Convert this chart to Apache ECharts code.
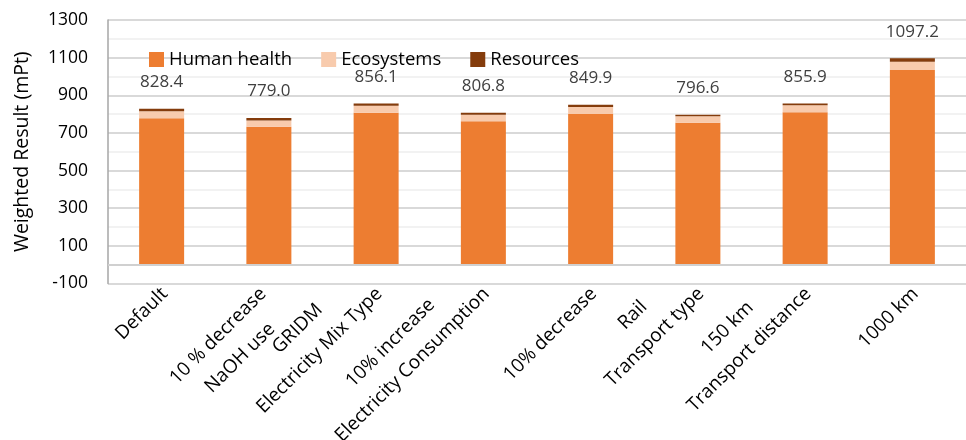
<!DOCTYPE html>
<html>
<head>
<meta charset="utf-8">
<script src="https://cdn.jsdelivr.net/npm/echarts@6/dist/echarts.min.js"></script>
<style>
  html, body { margin: 0; padding: 0; background: #fff; }
  #chart { width: 966px; height: 440px; }
</style>
</head>
<body>
<div id="chart"></div>
<script>
// Scenario labels (two-line where a parameter name follows the variation)
const categories = [
  'Default',
  '10 % decrease\nNaOH use',
  'GRIDM\nElectricity Mix Type',
  '10% increase\nElectricity Consumption',
  '10% decrease',
  'Rail\nTransport type',
  '150 km\nTransport distance',
  '1000 km'
];

// Weighted damage contributions per scenario (mPt)
const humanHealth = [778.4, 733.0, 807.0, 762.0, 800.5, 754.0, 809.5, 1034.5];
const ecosystems  = [36.5, 33.0, 37.0, 34.0, 37.0, 34.0, 37.0, 44.0];
const resources   = [13.5, 13.0, 12.1, 10.8, 12.4, 8.6, 9.4, 18.7];

// Stated totals shown above each bar
const totals = [828.4, 779.0, 856.1, 806.8, 849.9, 796.6, 855.9, 1097.2];

const yTicks = { min: -100, max: 1300, step: 200 };

const fontFamily = '"Open Sans", "Noto Sans", sans-serif';
const catFontSize = 19;
const catLineGap = 31;

// Canvas used only to measure label line widths
const measureCtx = document.createElement('canvas').getContext('2d');
function lineWidth(text) {
  measureCtx.font = catFontSize + 'px ' + fontFamily;
  return measureCtx.measureText(text).width;
}

// Category labels: rotated 45°, lines centred on each other, and the
// block placed so its upper-right extent sits just right of the tick.
function renderCategoryLabel(params, api) {
  const idx = api.value(0);
  const base = api.coord([idx, yTicks.min]);
  const lines = categories[idx].split('\n');
  const n = lines.length;
  const s = Math.SQRT1_2;
  const u = [s, -s];   // along the text baseline
  const v = [s, s];    // towards the next line
  const centres = lines.map((t, i) => {
    const off = (i - (n - 1) / 2) * catLineGap;
    return [v[0] * off, v[1] * off];
  });
  const ends = lines.map((t, i) => {
    const w = lineWidth(t) / 2;
    return [centres[i][0] + u[0] * w, centres[i][1] + u[1] * w];
  });
  const maxX = Math.max.apply(null, ends.map(e => e[0]));
  const minY = Math.min.apply(null, ends.map(e => e[1]));
  const dx = base[0] + 3 - maxX;
  const dy = base[1] + 7.5 - minY;
  return {
    type: 'group',
    children: lines.map((t, i) => ({
      type: 'text',
      x: centres[i][0] + dx,
      y: centres[i][1] + dy,
      rotation: Math.PI / 4,
      style: {
        text: t,
        align: 'center',
        verticalAlign: 'middle',
        fontSize: catFontSize,
        fontFamily: fontFamily,
        fill: '#000'
      }
    }))
  };
}

const chart = echarts.init(document.getElementById('chart'), null, { renderer: 'canvas' });

chart.setOption({
  animation: false,
  textStyle: { fontFamily: fontFamily },
  grid: { left: 108, top: 20, width: 861, bottom: 156.5, containLabel: false },
  legend: {
    data: ['Human health', 'Ecosystems', 'Resources'],
    left: 144,
    top: 45,
    itemWidth: 15,
    itemHeight: 15,
    itemGap: 29,
    icon: 'rect',
    textStyle: { fontSize: 18.5, color: '#000', fontFamily: fontFamily }
  },
  xAxis: {
    type: 'category',
    data: categories,
    axisLine: { show: false },
    axisTick: { show: false },
    axisLabel: { show: false }
  },
  yAxis: {
    type: 'value',
    min: yTicks.min,
    max: yTicks.max,
    interval: yTicks.step,
    name: 'Weighted Result (mPt)',
    nameLocation: 'middle',
    nameGap: 76,
    nameTextStyle: { fontSize: 19.5, color: '#000', fontFamily: fontFamily },
    axisLine: { show: true, lineStyle: { color: '#a6a6a6', width: 1.5 } },
    axisTick: { show: false },
    axisLabel: {
      fontSize: 17.5,
      color: '#000',
      margin: 20,
      fontFamily: fontFamily,
      formatter: v => String(v)
    },
    splitLine: { show: true, lineStyle: { color: '#d9d9d9', width: 2 } },
    minorTick: { show: false, splitNumber: 2 },
    minorSplitLine: { show: true, lineStyle: { color: '#f2f2f2', width: 2 } }
  },
  series: [
    {
      name: 'Human health',
      type: 'bar',
      stack: 'total',
      barWidth: 45,
      data: humanHealth,
      itemStyle: { color: '#ED7D31' },
      markLine: {
        silent: true,
        symbol: 'none',
        label: { show: false },
        lineStyle: { color: '#d0d0d0', width: 2, type: 'solid' },
        data: [{ yAxis: 0 }]
      },
      z: 3
    },
    {
      name: 'Ecosystems',
      type: 'bar',
      stack: 'total',
      data: ecosystems,
      itemStyle: { color: '#F8CBAD' },
      z: 3
    },
    {
      name: 'Resources',
      type: 'bar',
      stack: 'total',
      data: resources,
      itemStyle: { color: '#843C0C' },
      label: {
        show: true,
        position: 'top',
        distance: 18,
        fontSize: 17,
        color: '#404040',
        fontFamily: fontFamily,
        formatter: p => totals[p.dataIndex].toFixed(1)
      },
      z: 3
    },
    {
      type: 'custom',
      silent: true,
      clip: false,
      data: categories.map((c, i) => [i, yTicks.min]),
      encode: { x: 0, y: 1 },
      renderItem: renderCategoryLabel,
      z: 5
    }
  ]
});
</script>
</body>
</html>
